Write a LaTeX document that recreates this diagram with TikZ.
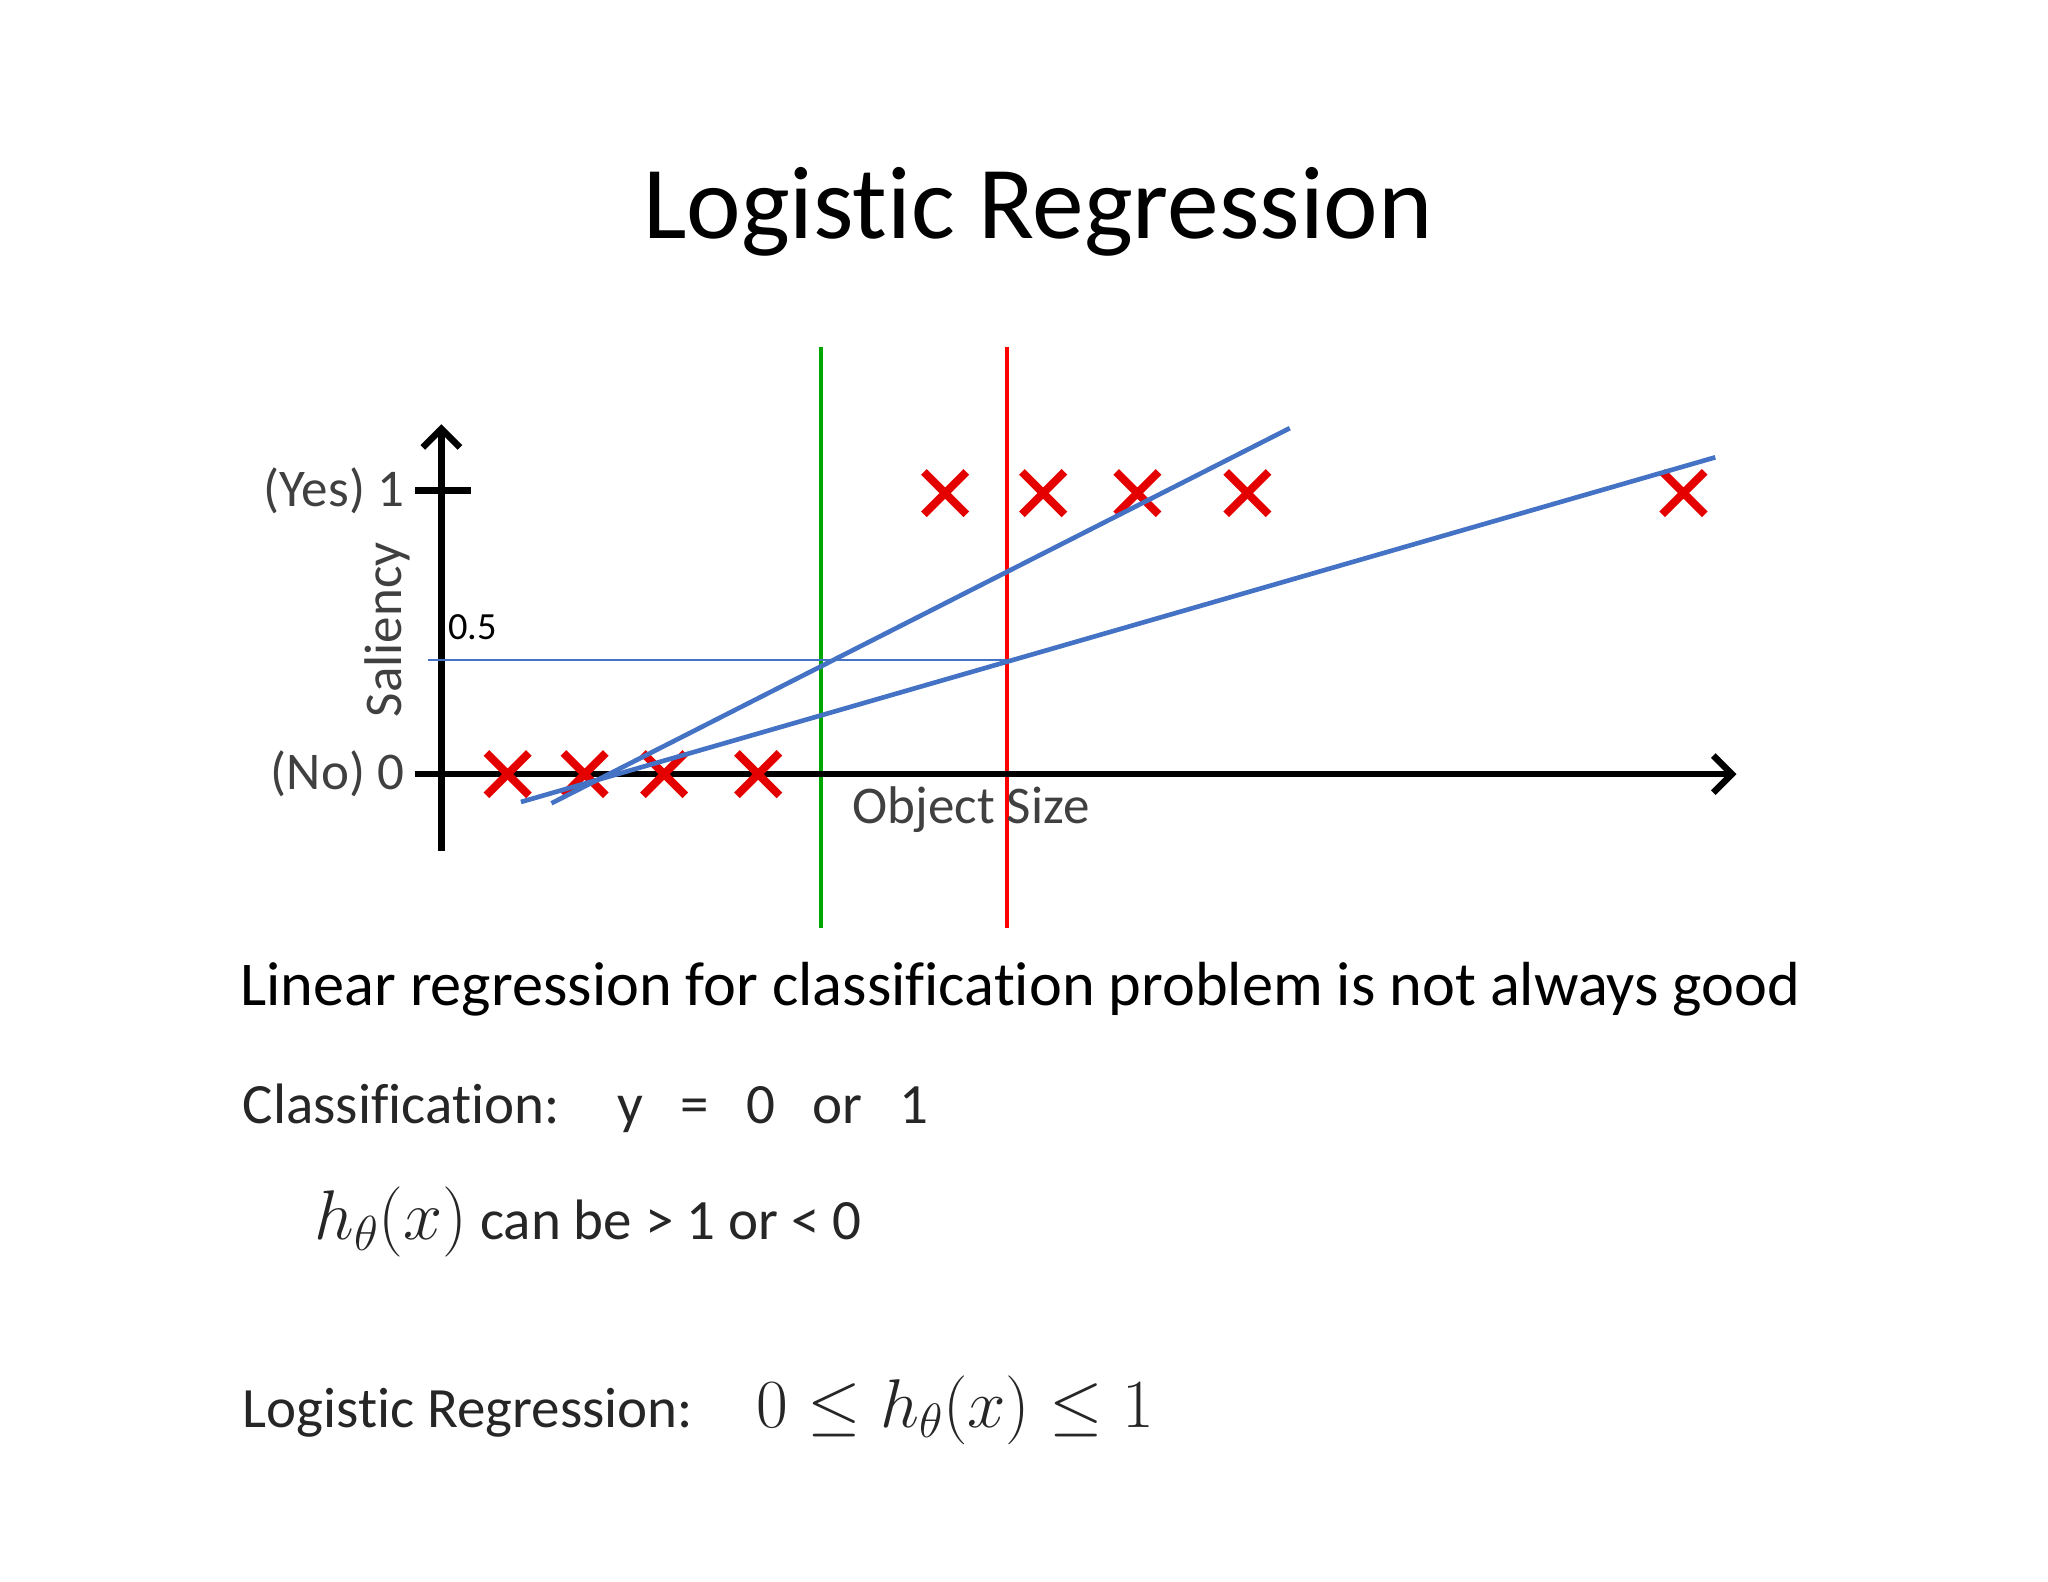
\documentclass[tikz,border=0pt]{standalone}
\usepackage{fix-cm}
\usepackage{fontspec}
\setmainfont{Carlito}[Ligatures=NoCommon]
\usetikzlibrary{arrows.meta}
\definecolor{fitblue}{RGB}{68,114,196}
\begin{document}
\begin{tikzpicture}[x=1pt,y=-1pt,
  cr/.style={red!90!black,line width=6pt},
  fit/.style={draw=fitblue,line width=3.5pt},
  lab/.style={text=black!75,font=\fontsize{40}{46}\selectfont,inner sep=0pt},
  low/.style={text=black!85,font=\fontsize{43}{48}\selectfont,inner sep=0pt,anchor=west}]
\useasboundingbox (0,0) rectangle (1545,1193);
\node[font=\fontsize{78}{90}\selectfont] (title) at (783,160) {Logistic Regression};
% guide lines
\draw[green!65!black,line width=3pt] (619,262) -- (619,700);
\draw[red,line width=3pt] (760,262) -- (760,700);
% axes
\coordinate (ob) at (333,642); \coordinate (ot) at (333,320);
\coordinate (xl) at (313,584); \coordinate (xr) at (1310,584);
\draw[line width=5pt,-{Straight Barb[length=14pt,width=28pt,line width=5pt]}] (ob) -- (ot);
\draw[line width=5pt,-{Straight Barb[length=14pt,width=28pt,line width=5pt]}] (xl) -- (xr);
\draw[line width=5pt] (313,370) -- (355,370);
\node[lab,anchor=east] (yes) at (305,370) {(Yes) 1};
\node[lab,anchor=east] (no) at (305,584) {(No) 0};
\node[lab,rotate=90] (sal) at (292,475) {Saliency};
\node[lab,anchor=west] (os) at (643,611) {Object Size};
\node[anchor=west,inner sep=0pt,font=\fontsize{29}{32}\selectfont] (half) at (338,473) {0.5};
\draw[fitblue,line width=1.2pt] (323,498) -- (760,498);
% crosses
\foreach \x/\y in {713/372,787/372,858/372,941/372,1270/372,383/584,441/584,501/584,572/584}
  \draw[cr] (\x-16,\y-16) -- (\x+16,\y+16) (\x-16,\y+16) -- (\x+16,\y-16);
\draw[fit] (416,606) -- (973,323);
\draw[fit] (393,605) -- (1294,345);
% texts
\node[anchor=west,inner sep=0pt,font=\fontsize{47}{54}\selectfont] (lin) at (181,746) {Linear regression for classification problem is not always good};
\node[low] (cls) at (183,836) {Classification:\hspace{44pt}y\hspace{28pt}=\hspace{28pt}0\hspace{28pt}or\hspace{28pt}1};
\node[low] (hx) at (237,922) {\fontsize{53}{58}\selectfont$h_\theta(x)$\fontsize{43}{48}\selectfont\ can be > 1 or < 0};
\node[low] (lr) at (183,1064) {Logistic Regression:\hspace{48pt}\fontsize{52}{58}\selectfont$0\le h_\theta(x)\le 1$};
\end{tikzpicture}
\end{document}
